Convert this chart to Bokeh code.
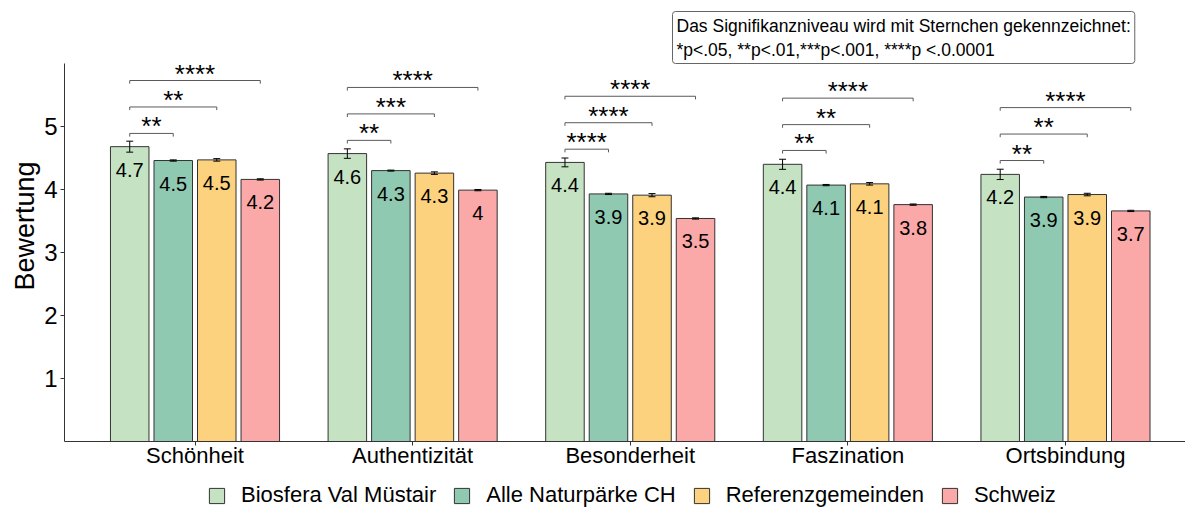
from bokeh.plotting import figure
from bokeh.layouts import column
from bokeh.models import (ColumnDataSource, Range1d, FixedTicker, Title, Legend, LegendItem)
from bokeh.core.properties import value
from bokeh.embed import file_html
from bokeh.resources import INLINE

# ---------------- data ----------------
categories = ["Schönheit", "Authentizität", "Besonderheit", "Faszination", "Ortsbindung"]
series = ["Biosfera Val Müstair", "Alle Naturpärke CH", "Referenzgemeinden", "Schweiz"]
colors = ["#C5E3C3", "#8FC9B2", "#FCD27F", "#FAA8A8"]

biosfera = [4.68, 4.57, 4.43, 4.40, 4.24]
alle = [4.46, 4.30, 3.93, 4.07, 3.88]
referenz = [4.47, 4.26, 3.91, 4.09, 3.92]
schweiz = [4.16, 3.99, 3.54, 3.76, 3.66]

err_biosfera = [0.087, 0.075, 0.070, 0.080, 0.082]
err_alle = [0.010, 0.008, 0.010, 0.010, 0.010]
err_referenz = [0.020, 0.020, 0.025, 0.020, 0.020]
err_schweiz = [0.010, 0.010, 0.010, 0.010, 0.010]

# significance of Biosfera vs. each other series
sig_alle = ["**", "**", "****", "**", "**"]
sig_referenz = ["**", "***", "****", "**", "**"]
sig_schweiz = ["****", "****", "****", "****", "****"]
bracket_y_alle = [4.89, 4.78, 4.64, 4.62, 4.46]
bracket_y_referenz = [5.31, 5.20, 5.06, 5.03, 4.88]
bracket_y_schweiz = [5.73, 5.62, 5.48, 5.45, 5.30]

y_ticks = [1, 2, 3, 4, 5]
note_text = ("Das Signifikanzniveau wird mit Sternchen gekennzeichnet:\n"
             "*p<.05, **p<.01,***p<.001, ****p <.0.0001")
y_title = "Bewertung"

# ---------------- layout ----------------
FONT = "Liberation Sans"
values_all = [biosfera, alle, referenz, schweiz]
errs_all = [err_biosfera, err_alle, err_referenz, err_schweiz]
offsets = [-0.3, -0.1, 0.1, 0.3]
bar_w = 0.177
cap_half = 0.016
base_x = [i + 1 for i in range(len(categories))]

p = figure(frame_width=1121, frame_height=378, output_backend="svg", toolbar_location=None,
           x_range=Range1d(0.4003, 5.5515), y_range=Range1d(0, 6),
           min_border_left=64, min_border_right=0, min_border_top=63,
           min_border_bottom=37)
p.xgrid.visible = False
p.ygrid.visible = False
p.outline_line_color = None
p.background_fill_color = "white"
p.border_fill_color = "white"

renderers = []
for s, (vals, errs, col) in enumerate(zip(values_all, errs_all, colors)):
    xs = [b + offsets[s] for b in base_x]
    labels = [f"{round(v, 1):g}" for v in vals]
    src = ColumnDataSource(dict(x=xs, top=vals, lab=labels,
                                lo=[v - e for v, e in zip(vals, errs)],
                                hi=[v + e for v, e in zip(vals, errs)],
                                cl=[x - cap_half for x in xs],
                                cr=[x + cap_half for x in xs]))
    r = p.vbar(x="x", top="top", bottom=0, width=bar_w, source=src,
               fill_color=col, line_color="#333333", line_width=1)
    renderers.append(r)
    # error bars
    p.segment(x0="x", y0="lo", x1="x", y1="hi", source=src, line_color="black", line_width=1)
    p.segment(x0="cl", y0="hi", x1="cr", y1="hi", source=src, line_color="black", line_width=1)
    p.segment(x0="cl", y0="lo", x1="cr", y1="lo", source=src, line_color="black", line_width=1)
    # value labels
    p.text(x="x", y="top", text="lab", source=src, text_align="center",
           text_baseline="alphabetic", y_offset=23, text_font=value(FONT),
           text_font_size="20px", text_color="black")

# significance brackets
tip = 0.05
for k, (sigs, bys) in enumerate([(sig_alle, bracket_y_alle),
                                 (sig_referenz, bracket_y_referenz),
                                 (sig_schweiz, bracket_y_schweiz)]):
    xl = [b + offsets[0] for b in base_x]
    xr = [b + offsets[k + 1] for b in base_x]
    bxs = [[a, a, c, c] for a, c in zip(xl, xr)]
    bys_ = [[y - tip, y, y, y - tip] for y in bys]
    p.multi_line(xs=bxs, ys=bys_, line_color="#5a5a5a", line_width=1)
    src = ColumnDataSource(dict(x=[(a + c) / 2 for a, c in zip(xl, xr)], y=bys, t=sigs))
    p.text(x="x", y="y", text="t", source=src, text_align="center",
           text_baseline="alphabetic", y_offset=-7, text_font=value(FONT),
           text_font_size="26px", text_color="black")

# axes
p.yaxis.ticker = FixedTicker(ticks=y_ticks)
p.yaxis.minor_tick_line_color = None
p.yaxis.major_tick_in = 0
p.yaxis.major_tick_out = 4
p.yaxis.major_label_standoff = 3
p.yaxis.major_label_text_font = FONT
p.yaxis.major_label_text_font_size = "24px"
p.yaxis.major_label_text_color = "black"
p.yaxis.axis_line_color = "#333333"
p.yaxis.major_tick_line_color = "#333333"

p.xaxis.ticker = FixedTicker(ticks=base_x)
p.xaxis.major_label_overrides = {b: c for b, c in zip(base_x, categories)}
p.xaxis.minor_tick_line_color = None
p.xaxis.major_tick_in = 0
p.xaxis.major_tick_out = 4
p.xaxis.major_label_standoff = -3
p.xaxis.major_label_text_font = FONT
p.xaxis.major_label_text_font_size = "22px"
p.xaxis.major_label_text_color = "black"
p.xaxis.axis_line_color = "#333333"
p.xaxis.major_tick_line_color = "#333333"

# note box (as plot title, above)
p.title.text = note_text
p.title.align = "left"
p.title.offset = 608
p.title.standoff = 0
p.title.text_font = FONT
p.title.text_font_size = "17.5px"
p.title.text_font_style = "normal"
p.title.text_color = "black"
p.title.text_line_height = 1.2
p.title.border_line_color = "#666666"
p.title.border_line_width = 1
p.title.background_fill_color = "white"
p.title.padding = 4
p.title.border_radius = 3

# y-axis title
p.add_layout(Title(text=y_title, align="left", offset=151, standoff=4,
                   text_font=FONT, text_font_size="27px", text_font_style="normal",
                   text_color="black"), "left")

# legend strip below the chart (its proxy bars lie outside the visible range)
leg = figure(width=1185, height=30, output_backend="svg", toolbar_location=None,
             x_range=Range1d(-10, -9), y_range=Range1d(0, 1),
             x_axis_type=None, y_axis_type=None, min_border=0)
leg.outline_line_color = None
leg.background_fill_color = "white"
leg.border_fill_color = "white"
leg_renderers = [leg.vbar(x=base_x, top=vals, width=bar_w, fill_color=c,
                          line_color="#333333", line_width=1)
                 for vals, c in zip(values_all, colors)]
legend = Legend(items=[LegendItem(label=s, renderers=[r]) for s, r in zip(series, leg_renderers)],
                orientation="horizontal", location=(143, 0),
                label_text_font=FONT, label_text_font_size="22px", label_text_color="black",
                glyph_width=19, glyph_height=19, label_standoff=15, spacing=16,
                padding=0, margin=0, border_line_color=None, background_fill_alpha=0)
leg.add_layout(legend, "center")

layout = column(p, leg, spacing=0)
open("out.html", "w").write(file_html(layout, INLINE))
